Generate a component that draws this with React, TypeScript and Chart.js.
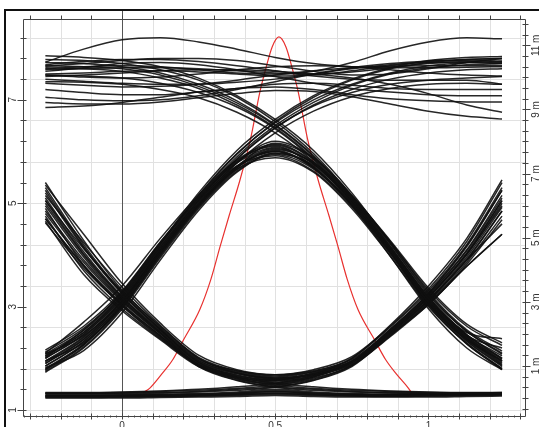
import React, { useEffect, useRef } from "react";
import { Chart, registerables } from "chart.js";

Chart.register(...registerables);

const X_SAMPLES = [-0.25, -0.125, 0, 0.125, 0.25, 0.375, 0.5, 0.625, 0.75, 0.875, 1.0, 1.125, 1.24];

// 0-1-0 pulses (the "∩" bundle)
const PULSE_TRACES = [
  [1.93, 2.40, 3.12, 4.10, 5.00, 5.70, 6.00, 5.70, 5.00, 4.10, 3.12, 2.40, 1.95],
  [1.75, 2.22, 2.98, 3.98, 4.92, 5.65, 5.97, 5.72, 5.05, 4.15, 3.18, 2.45, 2.00],
  [2.12, 2.58, 3.26, 4.22, 5.08, 5.80, 6.12, 5.78, 5.02, 4.08, 3.08, 2.34, 1.86],
  [1.85, 2.33, 3.06, 4.05, 4.97, 5.70, 6.16, 5.86, 5.12, 4.22, 3.25, 2.52, 2.10],
  [2.05, 2.50, 3.20, 4.16, 5.05, 5.72, 5.92, 5.62, 4.93, 4.02, 3.04, 2.30, 1.80],
  [1.80, 2.28, 3.02, 4.02, 4.95, 5.66, 5.88, 5.60, 4.90, 3.98, 3.00, 2.28, 1.78],
  [2.00, 2.46, 3.16, 4.14, 5.03, 5.78, 6.20, 5.88, 5.16, 4.26, 3.28, 2.55, 2.14],
  [1.90, 2.37, 3.10, 4.08, 4.99, 5.70, 6.02, 5.69, 4.98, 4.07, 3.10, 2.38, 1.92],
  [2.16, 2.62, 3.30, 4.25, 5.10, 5.78, 6.08, 5.76, 5.06, 4.14, 3.15, 2.42, 1.98],
  [1.73, 2.20, 2.95, 3.95, 4.90, 5.62, 5.94, 5.66, 4.96, 4.05, 3.06, 2.33, 1.84],
  [1.82, 2.15, 2.88, 3.90, 4.86, 5.60, 5.96, 5.74, 5.10, 4.25, 3.32, 2.62, 2.25],
  [2.10, 2.70, 3.40, 4.32, 5.16, 5.84, 6.14, 5.80, 5.08, 4.16, 3.16, 2.45, 2.05],
  [1.95, 2.30, 3.00, 4.00, 4.94, 5.68, 6.04, 5.78, 5.14, 4.28, 3.36, 2.66, 2.30],
  [2.02, 2.55, 3.28, 4.24, 5.12, 5.82, 6.10, 5.70, 4.95, 3.98, 2.96, 2.20, 1.78],
  [1.78, 2.26, 3.04, 4.06, 4.98, 5.72, 6.06, 5.76, 5.04, 4.12, 3.14, 2.50, 2.38],
  [2.08, 2.44, 3.10, 4.06, 4.98, 5.70, 6.00, 5.68, 4.98, 4.06, 3.06, 2.36, 1.95],
];

// 1-0-1 dips (the "U" bundle)
const DIP_TRACES = [
  [5.00, 4.00, 3.17, 2.52, 1.93, 1.70, 1.60, 1.70, 1.93, 2.52, 3.17, 4.00, 5.00],
  [5.40, 4.28, 3.32, 2.60, 2.00, 1.74, 1.64, 1.74, 2.00, 2.60, 3.30, 4.20, 5.30],
  [4.62, 3.74, 3.02, 2.42, 1.86, 1.64, 1.54, 1.66, 1.90, 2.48, 3.12, 3.92, 4.85],
  [5.20, 4.14, 3.25, 2.56, 1.96, 1.72, 1.62, 1.68, 1.88, 2.44, 3.08, 3.86, 4.75],
  [4.80, 3.86, 3.10, 2.47, 1.90, 1.68, 1.58, 1.72, 1.96, 2.56, 3.24, 4.10, 5.15],
  [5.30, 4.20, 3.28, 2.58, 1.98, 1.76, 1.68, 1.78, 2.03, 2.62, 3.34, 4.26, 5.40],
  [4.95, 3.96, 3.14, 2.50, 1.92, 1.67, 1.57, 1.67, 1.92, 2.50, 3.14, 3.96, 4.92],
  [5.10, 4.06, 3.20, 2.54, 1.95, 1.71, 1.62, 1.70, 1.94, 2.52, 3.18, 4.04, 5.05],
  [4.70, 3.80, 3.06, 2.44, 1.88, 1.62, 1.50, 1.62, 1.86, 2.42, 3.04, 3.82, 4.68],
  [5.35, 4.40, 3.45, 2.68, 2.06, 1.78, 1.68, 1.76, 1.98, 2.54, 3.22, 4.08, 5.10],
  [4.65, 3.62, 2.92, 2.36, 1.84, 1.61, 1.52, 1.64, 1.92, 2.54, 3.26, 4.18, 5.25],
  [5.05, 4.12, 3.30, 2.62, 2.02, 1.76, 1.66, 1.74, 1.94, 2.46, 3.06, 3.78, 4.40],
  [4.90, 3.80, 3.02, 2.40, 1.88, 1.66, 1.58, 1.70, 2.00, 2.64, 3.40, 4.32, 5.45],
  [5.15, 4.24, 3.38, 2.64, 2.00, 1.72, 1.60, 1.68, 1.92, 2.48, 3.10, 3.90, 4.60],
  [4.75, 3.70, 2.96, 2.38, 1.86, 1.64, 1.56, 1.66, 1.94, 2.52, 3.20, 4.02, 4.95],
];

// 1-0-0 and 0-0-1 transitions into / out of the low level
const FALL_LOW_TRACES = [
  [5.05, 4.02, 3.18, 2.50, 1.88, 1.60, 1.48, 1.42, 1.38, 1.36, 1.34, 1.33, 1.33],
  [4.85, 3.90, 3.12, 2.48, 1.86, 1.58, 1.45, 1.40, 1.36, 1.34, 1.33, 1.32, 1.32],
  [5.25, 4.16, 3.26, 2.56, 1.92, 1.64, 1.52, 1.45, 1.40, 1.37, 1.35, 1.34, 1.34],
  [4.70, 3.78, 3.04, 2.44, 1.84, 1.57, 1.44, 1.38, 1.35, 1.33, 1.32, 1.32, 1.32],
];
const RISE_LOW_TRACES = [
  [1.33, 1.33, 1.34, 1.36, 1.38, 1.42, 1.48, 1.60, 1.88, 2.50, 3.18, 4.02, 5.05],
  [1.32, 1.32, 1.33, 1.34, 1.36, 1.40, 1.45, 1.58, 1.86, 2.48, 3.12, 3.90, 4.85],
  [1.34, 1.34, 1.35, 1.37, 1.40, 1.45, 1.52, 1.64, 1.92, 2.56, 3.26, 4.16, 5.25],
  [1.32, 1.32, 1.32, 1.33, 1.35, 1.38, 1.44, 1.57, 1.84, 2.44, 3.04, 3.78, 4.40],
];

// 0-0-0 (flat low level)
const FLAT_TRACES = [
  [1.25, 1.25, 1.25, 1.26, 1.27, 1.28, 1.30, 1.28, 1.27, 1.27, 1.27, 1.28, 1.29],
  [1.28, 1.28, 1.28, 1.29, 1.30, 1.33, 1.38, 1.33, 1.30, 1.29, 1.30, 1.31, 1.32],
  [1.26, 1.26, 1.27, 1.28, 1.29, 1.31, 1.34, 1.31, 1.29, 1.28, 1.29, 1.30, 1.31],
];

// 0-1-1 (rising to the high level)
const RISE_HIGH_TRACES = [
  [1.95, 2.42, 3.14, 4.14, 5.10, 5.90, 6.50, 6.95, 7.28, 7.50, 7.62, 7.68, 7.70],
  [1.85, 2.32, 3.06, 4.08, 5.05, 5.85, 6.45, 6.90, 7.20, 7.40, 7.52, 7.58, 7.60],
  [2.08, 2.54, 3.24, 4.22, 5.20, 6.02, 6.62, 7.08, 7.40, 7.62, 7.76, 7.82, 7.84],
  [1.78, 2.26, 3.00, 4.02, 5.00, 5.78, 6.36, 6.78, 7.06, 7.22, 7.30, 7.32, 7.30],
  [2.00, 2.47, 3.18, 4.18, 5.14, 5.95, 6.58, 7.05, 7.38, 7.60, 7.72, 7.78, 7.80],
  [1.90, 2.36, 3.10, 4.10, 5.06, 5.86, 6.46, 6.88, 7.14, 7.30, 7.38, 7.42, 7.45],
  [2.04, 2.50, 3.22, 4.20, 5.16, 5.96, 6.56, 7.00, 7.30, 7.52, 7.66, 7.72, 7.74],
];

// 1-1-0 (falling from the high level)
const FALL_HIGH_TRACES = [
  [7.72, 7.70, 7.64, 7.52, 7.30, 6.98, 6.52, 5.92, 5.12, 4.15, 3.15, 2.42, 1.95],
  [7.62, 7.60, 7.55, 7.42, 7.22, 6.90, 6.46, 5.86, 5.06, 4.10, 3.08, 2.36, 1.88],
  [7.85, 7.82, 7.76, 7.64, 7.42, 7.08, 6.62, 6.02, 5.20, 4.22, 3.22, 2.52, 2.08],
  [7.35, 7.34, 7.30, 7.20, 7.04, 6.76, 6.36, 5.80, 5.00, 4.04, 3.02, 2.28, 1.80],
  [7.78, 7.76, 7.70, 7.58, 7.38, 7.05, 6.58, 5.96, 5.14, 4.18, 3.18, 2.46, 2.00],
  [7.48, 7.46, 7.42, 7.32, 7.14, 6.86, 6.44, 5.84, 5.04, 4.08, 3.10, 2.38, 1.90],
  [7.66, 7.64, 7.60, 7.48, 7.26, 6.94, 6.50, 5.90, 5.10, 4.14, 3.16, 2.44, 2.20],
];

// 1-1-1 (high level)
const HIGH_TRACES = [
  [7.73, 7.98, 8.16, 8.20, 8.12, 7.98, 7.82, 7.70, 7.64, 7.62, 7.62, 7.63, 7.64],
  [7.65, 7.70, 7.76, 7.80, 7.80, 7.76, 7.66, 7.55, 7.48, 7.50, 7.60, 7.72, 7.80],
  [7.60, 7.64, 7.66, 7.64, 7.58, 7.52, 7.50, 7.55, 7.72, 7.95, 8.12, 8.20, 8.18],
  [7.55, 7.62, 7.70, 7.72, 7.68, 7.58, 7.45, 7.32, 7.22, 7.15, 7.10, 7.08, 7.08],
  [7.50, 7.52, 7.55, 7.56, 7.54, 7.50, 7.46, 7.48, 7.56, 7.66, 7.74, 7.76, 7.75],
  [7.45, 7.48, 7.52, 7.56, 7.58, 7.58, 7.55, 7.50, 7.42, 7.30, 7.12, 6.90, 6.76],
  [7.40, 7.36, 7.32, 7.30, 7.30, 7.34, 7.40, 7.50, 7.60, 7.68, 7.72, 7.72, 7.70],
  [7.32, 7.28, 7.25, 7.26, 7.30, 7.38, 7.48, 7.56, 7.62, 7.65, 7.66, 7.66, 7.66],
  [7.20, 7.14, 7.10, 7.10, 7.15, 7.22, 7.30, 7.32, 7.28, 7.22, 7.20, 7.20, 7.20],
  [7.05, 7.00, 6.98, 7.00, 7.08, 7.20, 7.35, 7.50, 7.62, 7.70, 7.75, 7.78, 7.80],
  [6.95, 6.92, 6.92, 6.96, 7.04, 7.12, 7.18, 7.16, 7.06, 6.92, 6.78, 6.68, 6.63],
  [6.85, 6.88, 6.95, 7.05, 7.15, 7.22, 7.25, 7.20, 7.10, 7.02, 6.98, 6.96, 6.96],
  [7.68, 7.74, 7.78, 7.78, 7.74, 7.66, 7.56, 7.46, 7.40, 7.38, 7.38, 7.38, 7.30],
  [7.58, 7.60, 7.62, 7.62, 7.60, 7.56, 7.52, 7.50, 7.54, 7.62, 7.70, 7.74, 7.72],
  [7.48, 7.44, 7.42, 7.44, 7.50, 7.58, 7.64, 7.66, 7.64, 7.58, 7.52, 7.48, 7.46],
];

// Red histogram curve (right axis, "m")
const HIST_X = [0.069, 0.09, 0.13, 0.166, 0.2, 0.254, 0.29, 0.32, 0.35, 0.385, 0.42, 0.45, 0.47, 0.49, 0.512,
  0.535, 0.555, 0.575, 0.605, 0.64, 0.675, 0.705, 0.735, 0.77, 0.825, 0.86, 0.895, 0.935, 0.952];
const HIST_Y = [0.17, 0.3, 0.75, 1.2, 1.8, 2.76, 3.7, 4.72, 5.7, 6.8, 8.1, 9.55, 10.3, 10.95, 11.26,
  10.95, 10.3, 9.55, 8.1, 6.8, 5.7, 4.72, 3.7, 2.76, 1.8, 1.2, 0.75, 0.3, 0.05];

const LEFT_LABEL_VALUES = [1, 3, 5, 7];
const LEFT_LABELS = ["1", "3", "5", "7"];
const RIGHT_LABEL_VALUES = [1, 3, 5, 7, 9, 11];
const RIGHT_LABELS = ["1 m", "3 m", "5 m", "7 m", "9 m", "11 m"];
const BOTTOM_LABEL_VALUES = [0, 0.5, 1];
const BOTTOM_LABELS = ["0", "0.5", "1"];

const FONT = "10px 'Liberation Sans', Arial, sans-serif";

const axesPlugin = {
  id: "eyeAxes",
  beforeDatasetsDraw(chart: any) {
    const { ctx, chartArea: a, scales } = chart;
    const xs = scales.x;
    const ys = scales.y;
    ctx.save();
    ctx.lineWidth = 1;
    ctx.strokeStyle = "#e1e1e1";
    ctx.beginPath();
    for (let k = -3; k <= 13; k++) {
      if (k === 0) continue;
      const px = Math.round(xs.getPixelForValue(k / 10)) + 0.5;
      if (px <= a.left || px >= a.right) continue;
      ctx.moveTo(px, a.top);
      ctx.lineTo(px, a.bottom);
    }
    for (let k = 0; k <= 9; k++) {
      const py = Math.round(ys.getPixelForValue(1 + 0.8 * k)) + 0.5;
      if (py <= a.top || py >= a.bottom) continue;
      ctx.moveTo(a.left, py);
      ctx.lineTo(a.right, py);
    }
    ctx.stroke();
    ctx.strokeStyle = "#555";
    const zx = Math.round(xs.getPixelForValue(0)) + 0.5;
    ctx.beginPath();
    ctx.moveTo(zx, a.top - 8);
    ctx.lineTo(zx, a.bottom + 3);
    ctx.stroke();
    ctx.restore();
  },
  afterDatasetsDraw(chart: any) {
    const { ctx, chartArea: a, scales } = chart;
    const xs = scales.x;
    const ys = scales.y;
    const y2 = scales.y2;
    ctx.save();
    ctx.fillStyle = "#111";
    ctx.fillRect(4, 9, 2, 420);
    ctx.fillRect(4, 9, 540, 2);

    ctx.strokeStyle = "#444";
    ctx.lineWidth = 1;
    const L = Math.round(a.left) + 0.5;
    const R = Math.round(a.right) + 0.5;
    const T = Math.round(a.top) + 0.5;
    const B = Math.round(a.bottom) + 0.5;
    ctx.beginPath();
    ctx.moveTo(L, T); ctx.lineTo(R, T); ctx.lineTo(R, B); ctx.lineTo(L, B); ctx.closePath();
    ctx.stroke();

    ctx.beginPath();
    for (let k = 0; k <= 18; k++) {
      const v = 1 + 0.4 * k;
      const py = Math.round(ys.getPixelForValue(v)) + 0.5;
      if (py < a.top - 1 || py > a.bottom + 1) continue;
      const major = k % 5 === 0;
      ctx.moveTo(L - (major ? 6 : 3), py);
      ctx.lineTo(L + 3, py);
    }
    for (let k = -3; k <= 13; k++) {
      const px = Math.round(xs.getPixelForValue(k / 10)) + 0.5;
      if (px < a.left || px > a.right) continue;
      ctx.moveTo(px, T - 4);
      ctx.lineTo(px, T);
      ctx.moveTo(px, B - 3);
      ctx.lineTo(px, B + 3);
    }
    for (let k = -16; k <= 66; k++) {
      if (k % 5 === 0) continue;
      const px = Math.round(xs.getPixelForValue(k / 50)) + 0.5;
      if (px < a.left || px > a.right) continue;
      ctx.moveTo(px, B - 1);
      ctx.lineTo(px, B + 1);
    }
    for (let k = -1; k <= 35; k++) {
      const v = k / 3;
      const py = Math.round(y2.getPixelForValue(v)) + 0.5;
      if (py < a.top || py > a.bottom) continue;
      const major = k % 6 === 3;
      ctx.moveTo(R - 3, py);
      ctx.lineTo(R + (major ? 5 : 3), py);
    }
    ctx.stroke();

    ctx.fillStyle = "#333";
    ctx.font = FONT;
    ctx.textAlign = "center";
    ctx.textBaseline = "middle";
    LEFT_LABEL_VALUES.forEach((v, i) => {
      const py = ys.getPixelForValue(v);
      ctx.save();
      ctx.translate(13, py);
      ctx.rotate(-Math.PI / 2);
      ctx.fillText(LEFT_LABELS[i], 0, 0);
      ctx.restore();
    });
    RIGHT_LABEL_VALUES.forEach((v, i) => {
      const py = y2.getPixelForValue(v);
      ctx.save();
      ctx.translate(536, py);
      ctx.rotate(-Math.PI / 2);
      ctx.fillText(RIGHT_LABELS[i], 0, 0);
      ctx.restore();
    });
    ctx.textBaseline = "top";
    BOTTOM_LABEL_VALUES.forEach((v, i) => {
      const px = xs.getPixelForValue(v);
      ctx.fillText(BOTTOM_LABELS[i], px, 421);
    });
    ctx.restore();
  },
};

function traceDataset(values: number[], width: number) {
  return {
    data: values.map((v, i) => ({ x: X_SAMPLES[i], y: v })),
    borderColor: "rgba(15,15,15,0.9)",
    borderWidth: width,
    pointRadius: 0,
    fill: false,
    cubicInterpolationMode: "monotone" as const,
    yAxisID: "y",
  };
}

export default function App() {
  const ref = useRef<HTMLCanvasElement | null>(null);
  useEffect(() => {
    if (!ref.current) return;
    const w = 1.5;
    const traces = [
      ...HIGH_TRACES.map((t) => traceDataset(t, w)),
      ...RISE_HIGH_TRACES.map((t) => traceDataset(t, w)),
      ...FALL_HIGH_TRACES.map((t) => traceDataset(t, w)),
      ...PULSE_TRACES.map((t) => traceDataset(t, w)),
      ...DIP_TRACES.map((t) => traceDataset(t, w)),
      ...FALL_LOW_TRACES.map((t) => traceDataset(t, w)),
      ...RISE_LOW_TRACES.map((t) => traceDataset(t, w)),
      ...FLAT_TRACES.map((t) => traceDataset(t, 3.5)),
    ];
    const hist = {
      data: HIST_X.map((x, i) => ({ x, y: HIST_Y[i] })),
      borderColor: "#e8312f",
      borderWidth: 1.2,
      pointRadius: 0,
      fill: false,
      cubicInterpolationMode: "monotone" as const,
      yAxisID: "y2",
    };
    const chart = new Chart(ref.current, {
      type: "line",
      data: { datasets: [...traces, hist] as any },
      options: {
        responsive: false,
        animation: false,
        events: [],
        layout: { padding: { left: 23, top: 19, right: 14, bottom: 11.5 } },
        plugins: { legend: { display: false }, tooltip: { enabled: false } },
        scales: {
          x: { type: "linear", min: -0.323, max: 1.315, display: false },
          y: { type: "linear", min: 0.894, max: 8.563, display: false },
          y2: { type: "linear", min: -0.545, max: 11.82, display: false, position: "right" },
        },
      },
      plugins: [axesPlugin],
    });
    return () => chart.destroy();
  }, []);
  return (
    <div style={{ position: "fixed", left: 0, top: 0, width: 539, height: 427, background: "#fff" }}>
      <canvas ref={ref} width={539} height={427} style={{ display: "block" }} />
    </div>
  );
}
